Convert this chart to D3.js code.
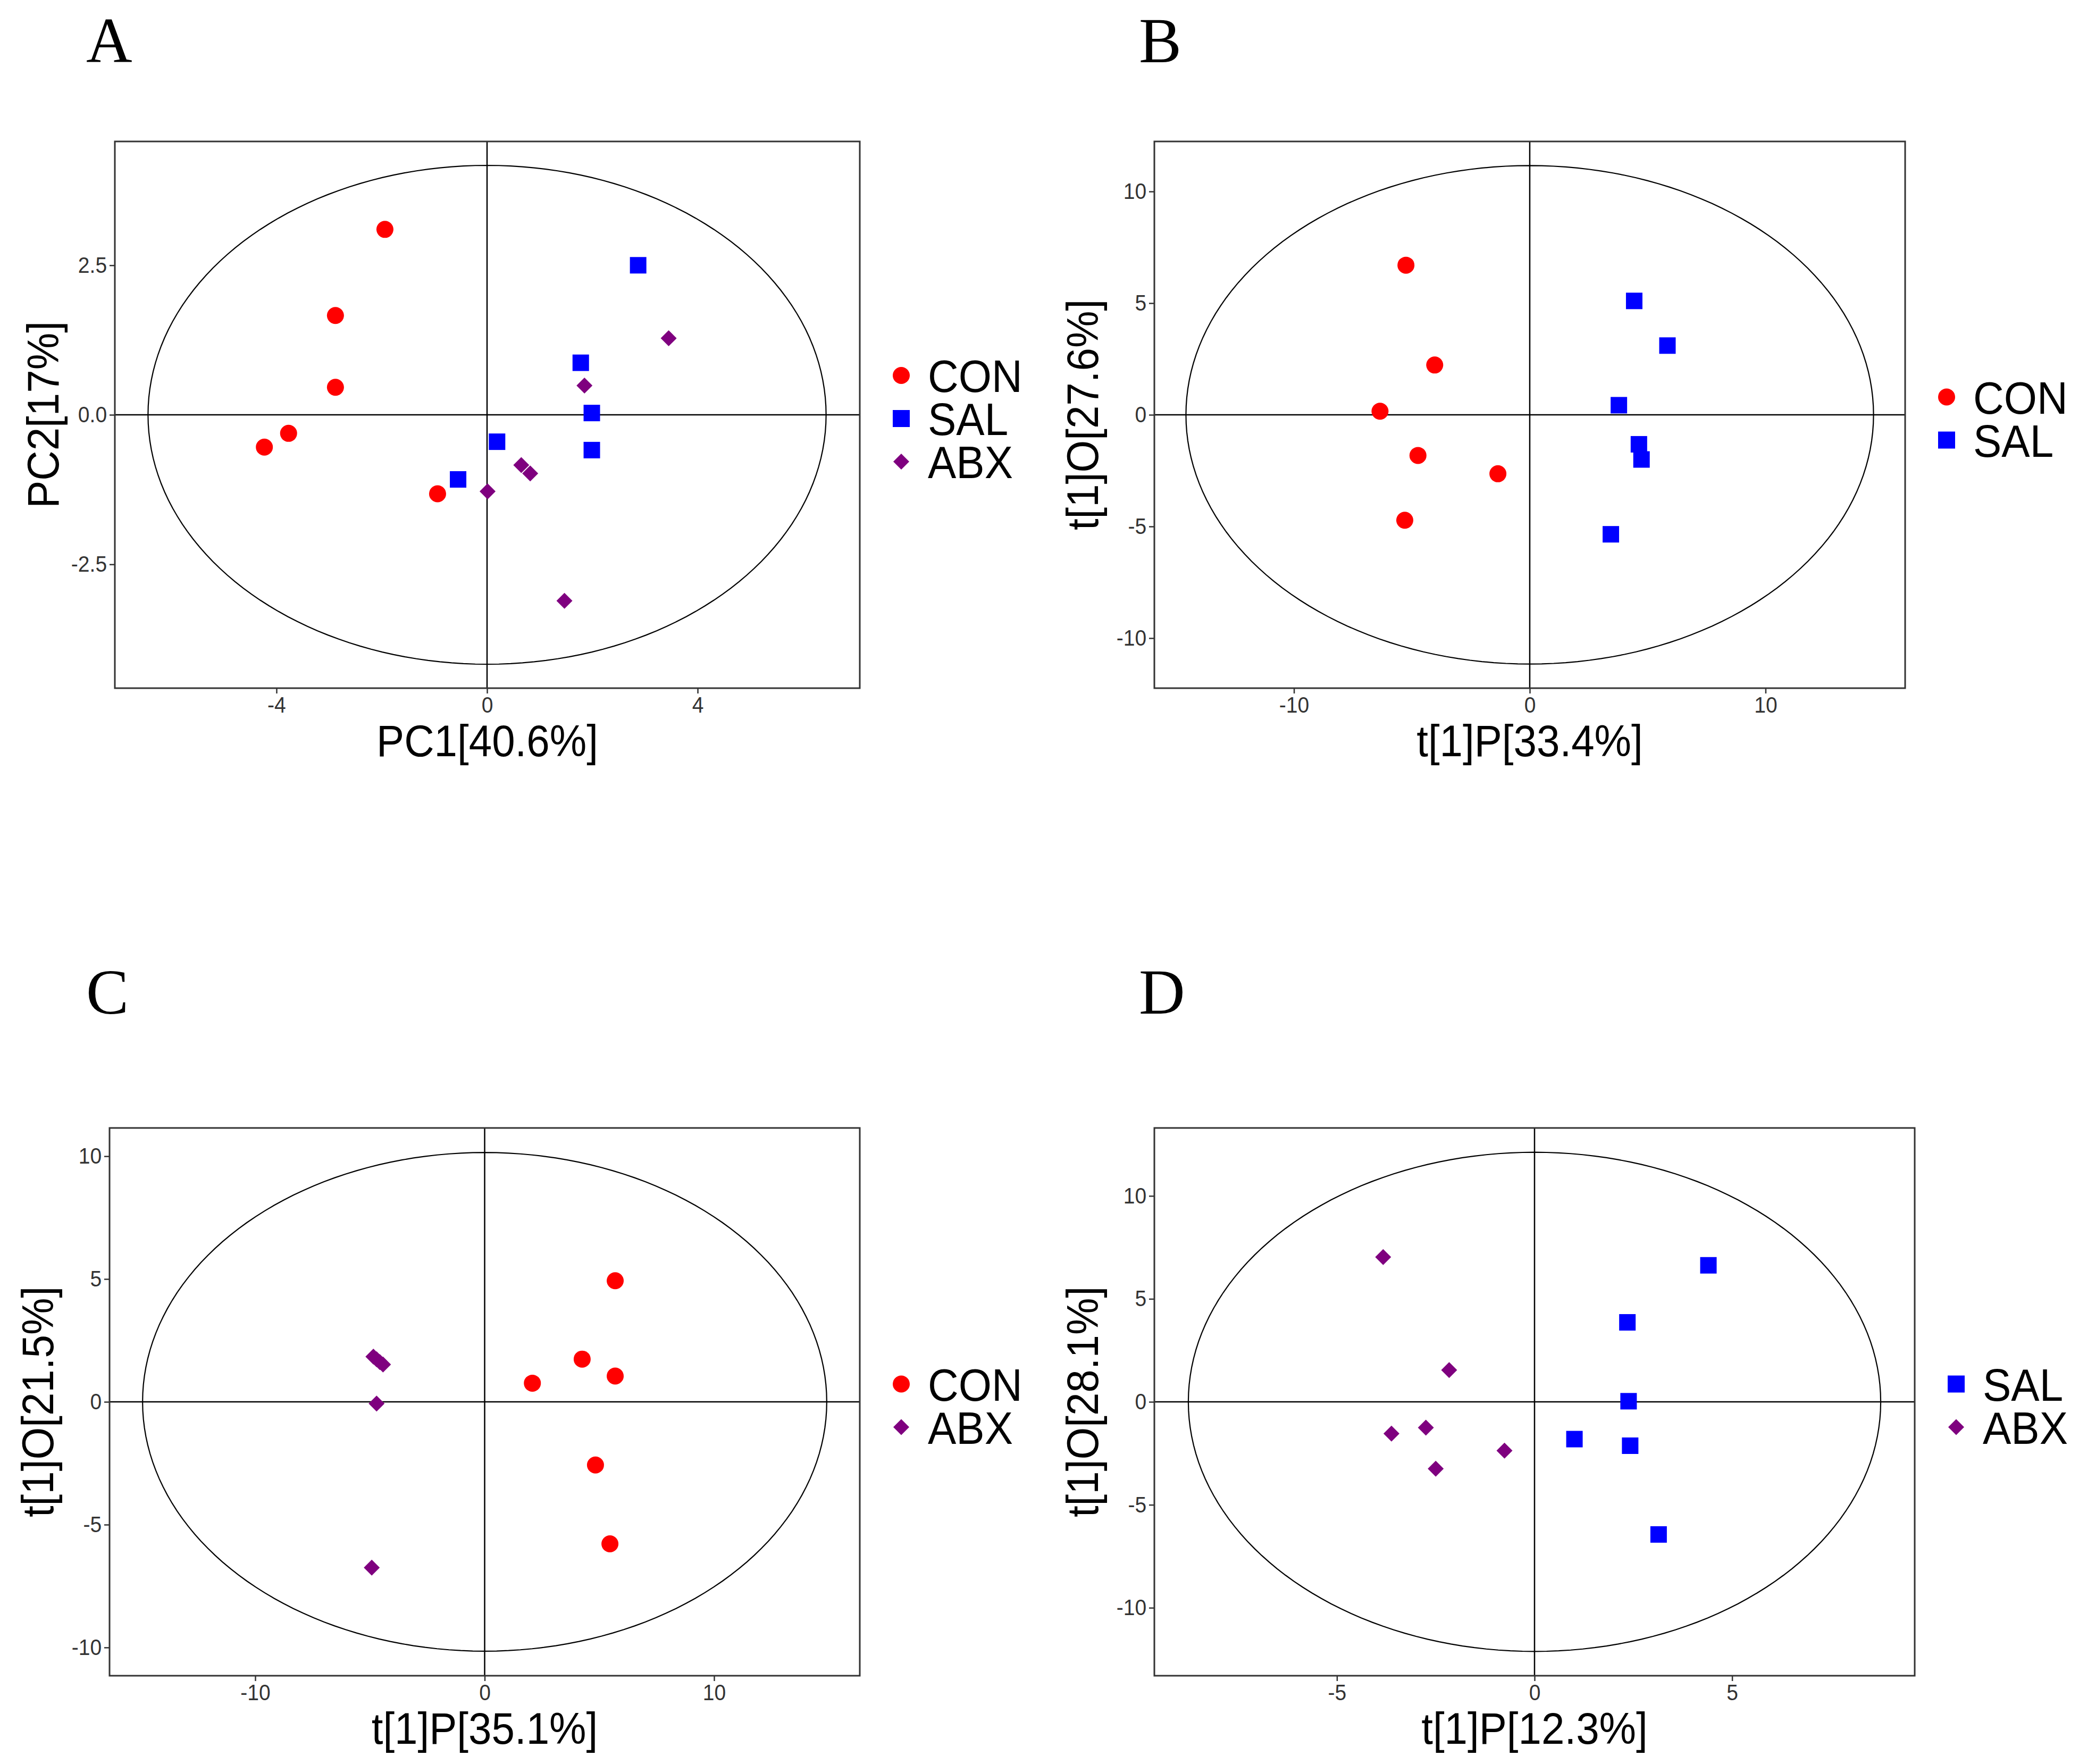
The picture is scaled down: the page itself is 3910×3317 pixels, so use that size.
<!DOCTYPE html>
<html>
<head>
<meta charset="utf-8">
<script src="https://cdn.jsdelivr.net/npm/d3@7"></script>
<style>
  html, body { margin: 0; padding: 0; background: #fff; }
  svg { display: block; }
</style>
</head>
<body>
<div id="chart"></div>
<script>
// group colours / shapes
const groupNames = ["CON", "SAL", "ABX"];
const groupColors = { CON: "#ff0000", SAL: "#0000ff", ABX: "#7f007f" };

// panel A : PCA scores
const aCON = [[-1.94, 3.10], [-2.88, 1.66], [-2.88, 0.46], [-3.77, -0.31], [-4.23, -0.54], [-0.94, -1.32]];
const aSAL = [[2.87, 2.50], [1.78, 0.87], [1.99, 0.03], [1.99, -0.59], [0.19, -0.45], [-0.55, -1.08]];
const aABX = [[3.45, 1.28], [1.85, 0.49], [0.65, -0.84], [0.82, -0.98], [0.01, -1.28], [1.47, -3.11]];

// panel B : OPLS-DA CON vs SAL
const bCON = [[-5.25, 6.70], [-4.03, 2.23], [-6.35, 0.16], [-4.74, -1.82], [-1.35, -2.64], [-5.30, -4.72]];
const bSAL = [[4.43, 5.10], [5.84, 3.10], [3.78, 0.43], [4.63, -1.32], [4.74, -2.00], [3.44, -5.35]];

// panel C : OPLS-DA CON vs ABX
const cCON = [[5.69, 4.93], [4.25, 1.74], [5.69, 1.05], [2.08, 0.76], [4.83, -2.57], [5.46, -5.78]];
const cABX = [[-4.85, 1.84], [-4.71, 1.73], [-4.57, 1.62], [-4.43, 1.52], [-4.71, -0.07], [-4.92, -6.75]];

// panel D : OPLS-DA SAL vs ABX
const dSAL = [[4.40, 6.63], [2.35, 3.86], [2.38, 0.03], [1.01, -1.81], [2.42, -2.13], [3.14, -6.44]];
const dABX = [[-3.83, 7.03], [-2.16, 1.54], [-3.62, -1.54], [-2.75, -1.25], [-2.50, -3.25], [-0.76, -2.37]];

// axis ranges, ticks and ellipse radii (Hotelling T2)
const xDomains = [[-7.07, 7.08], [-15.92, 15.92], [-16.35, 16.35], [-9.62, 9.62]];
const yDomains = [[-4.57, 4.57], [-12.24, 12.24], [-11.15, 11.15], [-13.3, 13.3]];
const xTicks = [[-4, 0, 4], [-10, 0, 10], [-10, 0, 10], [-5, 0, 5]];
const yTicks = [[-2.5, 0, 2.5], [-10, -5, 0, 5, 10], [-10, -5, 0, 5, 10], [-10, -5, 0, 5, 10]];
const yTickDigits = [1, 0, 0, 0];
const ellipseRadii = [[6.44, 4.17], [14.58, 11.16], [14.91, 10.15], [8.76, 12.12]];

const panelLetters = ["A", "B", "C", "D"];
const xTitles = ["PC1[40.6%]", "t[1]P[33.4%]", "t[1]P[35.1%]", "t[1]P[12.3%]"];
const yTitles = ["PC2[17%]", "t[1]O[27.6%]", "t[1]O[21.5%]", "t[1]O[28.1%]"];

const panelData = [
  { CON: aCON, SAL: aSAL, ABX: aABX },
  { CON: bCON, SAL: bSAL },
  { CON: cCON, ABX: cABX },
  { SAL: dSAL, ABX: dABX }
];

// plot boxes in page pixels [left, right, top, bottom]
const boxes = [
  [216, 1617, 266, 1294],
  [2171, 3583, 266, 1294],
  [206, 1617, 2121, 3151],
  [2171, 3601, 2121, 3151]
];

const W = 3910, H = 3317;
const sans = "'Liberation Sans', Arial, Helvetica, sans-serif";
const squeeze = 0.93;

const svg = d3.select("#chart").append("svg")
  .attr("width", W)
  .attr("height", H)
  .attr("viewBox", `0 0 ${W} ${H}`);

svg.append("rect").attr("width", W).attr("height", H).attr("fill", "#fff");

function tickFmt(digits) {
  return d => d3.format(`.${digits}f`)(d).replace("\u2212", "-");
}

function shapePath(name, size) {
  if (name === "CON") return d3.symbol(d3.symbolCircle, Math.PI * size * size / 4)();
  if (name === "SAL") return d3.symbol(d3.symbolSquare, size * size)();
  const h = size / 2;
  return `M0,${-h}L${h},0L0,${h}L${-h},0Z`;
}

const symbolSize = { CON: 32, SAL: 31, ABX: 30 };

boxes.forEach((box, i) => {
  const [left, right, top, bottom] = box;
  const x = d3.scaleLinear().domain(xDomains[i]).range([left, right]);
  const y = d3.scaleLinear().domain(yDomains[i]).range([bottom, top]);
  const g = svg.append("g").attr("class", "panel");

  // panel letter
  const lx = i % 2 === 0 ? 162 : 2142;
  const ly = i < 2 ? 117 : 1906;
  g.append("text")
    .attr("x", lx).attr("y", ly)
    .attr("font-family", "'Liberation Serif', 'Times New Roman', serif")
    .attr("font-size", 120)
    .attr("fill", "#000")
    .text(panelLetters[i]);

  // reference lines at zero
  g.append("line")
    .attr("x1", x(0)).attr("x2", x(0))
    .attr("y1", top).attr("y2", bottom)
    .attr("stroke", "#000").attr("stroke-width", 2.5);
  g.append("line")
    .attr("x1", left).attr("x2", right)
    .attr("y1", y(0)).attr("y2", y(0))
    .attr("stroke", "#000").attr("stroke-width", 2.5);

  // confidence ellipse
  const [rx, ry] = ellipseRadii[i];
  const pts = d3.range(0, 361, 2).map(a => {
    const t = a * Math.PI / 180;
    return [x(rx * Math.cos(t)), y(ry * Math.sin(t))];
  });
  g.append("path")
    .attr("d", d3.line()(pts) + "Z")
    .attr("fill", "none")
    .attr("stroke", "#000")
    .attr("stroke-width", 2.2);

  // points
  const groups = groupNames.filter(n => panelData[i][n]);
  groups.forEach(name => {
    g.append("g").selectAll("path")
      .data(panelData[i][name])
      .join("path")
      .attr("transform", d => `translate(${x(d[0])},${y(d[1])})`)
      .attr("d", shapePath(name, symbolSize[name]))
      .attr("fill", groupColors[name]);
  });

  // frame
  g.append("rect")
    .attr("x", left).attr("y", top)
    .attr("width", right - left).attr("height", bottom - top)
    .attr("fill", "none")
    .attr("stroke", "#333").attr("stroke-width", 3);

  // axes
  const xAxis = g.append("g")
    .attr("transform", `translate(0,${bottom})`)
    .call(d3.axisBottom(x).tickValues(xTicks[i]).tickSize(10).tickPadding(6).tickFormat(tickFmt(0)));
  const yAxis = g.append("g")
    .attr("transform", `translate(${left},0)`)
    .call(d3.axisLeft(y).tickValues(yTicks[i]).tickSize(10).tickPadding(6).tickFormat(tickFmt(yTickDigits[i])));
  [xAxis, yAxis].forEach(ax => {
    ax.select(".domain").remove();
    ax.selectAll(".tick line").attr("stroke", "#333").attr("stroke-width", 2.5);
    ax.selectAll(".tick text")
      .attr("font-family", sans)
      .attr("font-size", 42)
      .attr("fill", "#333")
      .attr("transform", `scale(${squeeze},1)`);
  });

  // axis titles
  g.append("text")
    .attr("transform", `translate(${(left + right) / 2},${bottom + 128}) scale(${squeeze},1)`)
    .attr("text-anchor", "middle")
    .attr("font-family", sans)
    .attr("font-size", 84)
    .attr("fill", "#000")
    .text(xTitles[i]);
  g.append("text")
    .attr("transform", `translate(${left - 106},${(top + bottom) / 2}) rotate(-90) scale(${squeeze},1)`)
    .attr("text-anchor", "middle")
    .attr("font-family", sans)
    .attr("font-size", 84)
    .attr("fill", "#000")
    .text(yTitles[i]);

  // legend
  const step = 81;
  const cy0 = (top + bottom) / 2 + 7 - step * (groups.length - 1) / 2;
  const sx = right + 78;
  const leg = g.append("g").selectAll("g")
    .data(groups)
    .join("g")
    .attr("transform", (d, k) => `translate(${sx},${cy0 + k * step})`);
  leg.append("path")
    .attr("d", d => shapePath(d, d === "ABX" ? 30 : 32))
    .attr("fill", d => groupColors[d]);
  leg.append("text")
    .attr("transform", `translate(50,31) scale(${squeeze},1)`)
    .attr("font-family", sans)
    .attr("font-size", 86)
    .attr("fill", "#000")
    .text(d => d);
});
</script>
</body>
</html>
